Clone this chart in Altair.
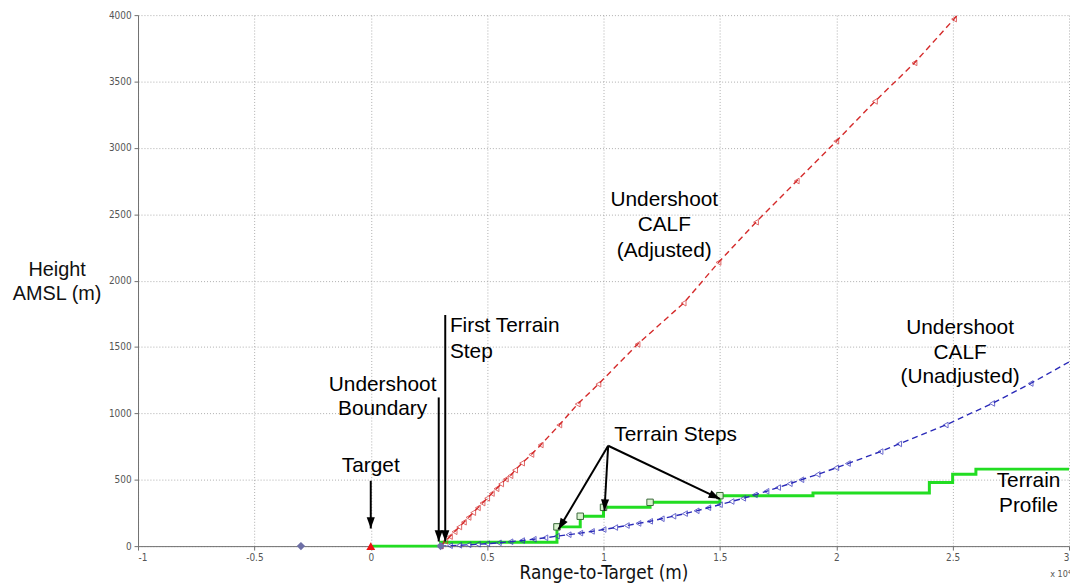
import math
import altair as alt
import pandas as pd

# ---------------- data (x in units of 10^4 m, y in m) ----------------
terrain_x = [0, 0.3, 0.8, 0.9, 1.0, 1.2, 1.5, 1.9, 2.4, 2.5, 2.6, 3.0]
terrain_y = [0, 30, 145, 225, 292, 330, 380, 400, 480, 542, 580, 580]

step_x = [0.8, 0.9, 1.0, 1.2, 1.5]
step_y = [145, 225, 292, 330, 380]

red_x = [0.30, 0.32, 0.34, 0.36, 0.38, 0.40, 0.42, 0.44, 0.46, 0.48, 0.50, 0.52, 0.54, 0.56,
         0.58, 0.60, 0.62, 0.65, 0.69, 0.73, 0.81, 0.889, 0.978, 1.146, 1.344, 1.494, 1.655,
         1.83, 2.0, 2.166, 2.336, 2.506]
red_y = [0, 36, 72, 108, 144, 180, 216, 252, 288, 324, 360, 396, 432, 468, 504, 530, 572, 625,
         690, 762, 912, 1070, 1220, 1520, 1830, 2137, 2440, 2750, 3050, 3350, 3640, 3970]
red_end = (2.52, 4000)

blue_x = [0.30, 0.34, 0.38, 0.42, 0.46, 0.50, 0.55, 0.60, 0.65, 0.70, 0.75, 0.80, 0.85, 0.90,
          0.95, 1.00, 1.05, 1.10, 1.15, 1.20, 1.25, 1.30, 1.35, 1.40, 1.45, 1.50, 1.55, 1.60,
          1.65, 1.70, 1.75, 1.80, 1.85, 1.92, 2.00, 2.05, 2.19, 2.27, 2.47, 2.67, 2.835]
blue_y = [0, 3, 6, 10, 14, 18, 25, 33, 42, 52, 63, 75, 86, 98, 111, 125, 140, 155, 171, 187,
          206, 225, 245, 266, 289, 312, 336, 360, 386, 413, 441, 470, 500, 540, 590, 622, 712,
          770, 912, 1075, 1225]
blue_end = (3.0, 1387)

# special points
diamond_x = [-0.3, 0.3]
diamond_y = [0, 0]
target_x = [0.0]
target_y = [0]

# annotation lines: text, x, y, align
label_text = ["Target", "Undershoot", "Boundary", "First Terrain", "Step",
              "Undershoot", "CALF", "(Adjusted)", "Terrain Steps",
              "Undershoot", "CALF", "(Unadjusted)", "Terrain", "Profile"]
label_x = [0.0, 0.051, 0.051, 0.34, 0.34, 1.261, 1.261, 1.261, 1.31,
           2.532, 2.532, 2.532, 2.826, 2.826]
label_y = [604, 1214, 1035, 1657, 1463, 2606, 2421, 2221, 835,
           1643, 1457, 1270, 491, 304]
label_align = ["center", "center", "center", "left", "left", "center", "center", "center",
               "center", "center", "center", "center", "center", "center"]

# arrows: start -> tip
arrow_x1 = [0.0, 0.292, 0.320, 1.02, 1.02, 1.02]
arrow_y1 = [492, 1120, 1741, 756, 756, 756]
arrow_x2 = [0.0, 0.292, 0.320, 0.806, 1.004, 1.500]
arrow_y2 = [133, 35, 35, 125, 267, 356]

x_ticks = [-1, -0.5, 0, 0.5, 1, 1.5, 2, 2.5, 3]
y_ticks = [0, 500, 1000, 1500, 2000, 2500, 3000, 3500, 4000]

# ---------------- layout ----------------
W, H = 938, 535
XMIN, XMAX, YMIN, YMAX = -1, 3, 0, 4000
FONT = "Liberation Sans, Arial, sans-serif"
TICKFONT = "Liberation Sans Narrow, DejaVu Sans Condensed, Liberation Sans, Arial, sans-serif"

xs = alt.Scale(domain=[XMIN, XMAX], nice=False, zero=False)
ys = alt.Scale(domain=[YMIN, YMAX], nice=False, zero=False)

x_axis = alt.Axis(values=x_ticks, grid=True, gridDash=[1, 2], gridColor="#9a9a9a",
                  gridOpacity=0.8, domainColor="#707070", tickColor="#707070", tickSize=4,
                  labelFont=TICKFONT, labelFontSize=10, labelColor="#555555", labelPadding=2,
                  labelExpr="toString(datum.value)",
                  title="Range-to-Target (m)", titleFont=TICKFONT, titleFontSize=19,
                  titleFontWeight="normal", titleColor="#111111",
                  titleBaseline="alphabetic", titleY=33)
y_axis = alt.Axis(values=y_ticks, grid=True, gridDash=[1, 2], gridColor="#9a9a9a",
                  gridOpacity=0.8, domainColor="#707070", tickColor="#707070", tickSize=4,
                  labelFont=TICKFONT, labelFontSize=10, labelColor="#555555", labelPadding=3,
                  labelExpr="toString(datum.value)",
                  title=["Height", "AMSL (m)"], titleFont=FONT, titleFontSize=20,
                  titleFontWeight="normal", titleColor="#111111", titleAngle=0,
                  titleAlign="center", titleBaseline="alphabetic", titleX=-82, titleY=262,
                  titleLineHeight=25)

# ---------------- frames ----------------
terrain_df = pd.DataFrame({"x": terrain_x, "y": terrain_y})
steps_df = pd.DataFrame({"x": step_x, "y": step_y})
red_pts = pd.DataFrame({"x": red_x, "y": red_y})
red_line = pd.DataFrame({"x": red_x + [red_end[0]], "y": red_y + [red_end[1]]})
blue_pts = pd.DataFrame({"x": blue_x, "y": blue_y})
blue_line = pd.DataFrame({"x": blue_x + [blue_end[0]], "y": blue_y + [blue_end[1]]})
diam_df = pd.DataFrame({"x": diamond_x, "y": diamond_y})
targ_df = pd.DataFrame({"x": target_x, "y": target_y})
lab_df = pd.DataFrame({"t": label_text, "x": label_x, "y": label_y, "a": label_align})

ang = []
for x1, y1, x2, y2 in zip(arrow_x1, arrow_y1, arrow_x2, arrow_y2):
    dx = (x2 - x1) * W / (XMAX - XMIN)
    dy = -(y2 - y1) * H / (YMAX - YMIN)
    ang.append(math.degrees(math.atan2(dx, -dy)) % 360)
arr_df = pd.DataFrame({"x1": arrow_x1, "y1": arrow_y1, "x2": arrow_x2, "y2": arrow_y2,
                       "ang": ang})

base_x = alt.X("x:Q", scale=xs, axis=x_axis)
base_y = alt.Y("y:Q", scale=ys, axis=y_axis)

terrain = alt.Chart(terrain_df).mark_line(
    color="#22dd22", strokeWidth=3, interpolate="step-after"
).encode(x=base_x, y=base_y, order="x:Q")

blue_l = alt.Chart(blue_line).mark_line(
    color="#2a2ab8", strokeWidth=1.4, strokeDash=[6, 4], clip=True
).encode(x=base_x, y=base_y, order="x:Q")
blue_p = alt.Chart(blue_pts).mark_point(
    shape="triangle-left", color="#2a2ab8", filled=False, size=32, strokeWidth=1
).encode(x=base_x, y=base_y)

red_l = alt.Chart(red_line).mark_line(
    color="#d42a2a", strokeWidth=1.4, strokeDash=[6, 4], clip=True
).encode(x=base_x, y=base_y, order="x:Q")
red_p = alt.Chart(red_pts).mark_point(
    shape="triangle-left", color="#d42a2a", filled=False, size=32, strokeWidth=1
).encode(x=base_x, y=base_y)

steps = alt.Chart(steps_df).mark_point(
    shape="square", filled=True, fill="#d9f2cf", stroke="#3a6a3a", strokeWidth=1,
    size=42, opacity=1
).encode(x=base_x, y=base_y)

diamonds = alt.Chart(diam_df).mark_point(
    shape="diamond", filled=True, color="#6d6fa6", size=70, opacity=1
).encode(x=base_x, y=base_y)

target = alt.Chart(targ_df).mark_point(
    shape="triangle-up", filled=True, color="#ee1111", size=80, opacity=1
).encode(x=base_x, y=base_y)

shafts = alt.Chart(arr_df).mark_rule(color="black", strokeWidth=2).encode(
    x=alt.X("x1:Q", scale=xs, axis=x_axis), y=alt.Y("y1:Q", scale=ys, axis=y_axis),
    x2="x2:Q", y2="y2:Q")

heads = alt.Chart(arr_df).mark_point(
    shape="M0,0L0.36,1L-0.36,1Z", filled=True, color="black", size=520, opacity=1
).encode(x=alt.X("x2:Q", scale=xs, axis=x_axis), y=alt.Y("y2:Q", scale=ys, axis=y_axis),
         angle=alt.Angle("ang:Q", scale=None))

labels_c = alt.Chart(lab_df).transform_filter("datum.a == 'center'").mark_text(
    font=FONT, fontSize=21, color="black", align="center", baseline="middle"
).encode(x=base_x, y=base_y, text="t:N")
labels_l = alt.Chart(lab_df).transform_filter("datum.a == 'left'").mark_text(
    font=FONT, fontSize=21, color="black", align="left", baseline="middle"
).encode(x=base_x, y=base_y, text="t:N")

exp_df = pd.DataFrame({"x": [XMAX], "y": [YMIN], "t": ["x 10\u2074"]})
exponent = alt.Chart(exp_df).mark_text(
    font=TICKFONT, fontSize=9, color="#555555", align="right", baseline="middle",
    dx=2, dy=28
).encode(x=base_x, y=base_y, text="t:N")

chart = alt.layer(
    terrain, blue_l, red_l, blue_p, red_p, steps, diamonds, target,
    shafts, heads, labels_c, labels_l, exponent
).properties(
    width=W, height=H,
    autosize=alt.AutoSizeParams(type="none"),
    padding={"left": 131, "top": 5, "right": 1, "bottom": 37},
    background="white",
).configure_view(stroke=None)

chart.save("out.html", embed_options={"renderer": "svg", "actions": False})
